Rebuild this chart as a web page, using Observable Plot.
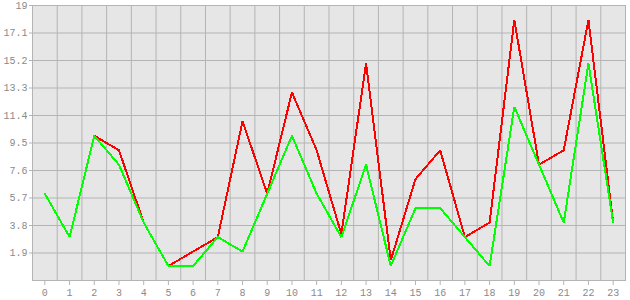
<!DOCTYPE html>
<html>
<head>
<meta charset="utf-8">
<script src="https://cdn.jsdelivr.net/npm/d3@7"></script>
<script src="https://cdn.jsdelivr.net/npm/@observablehq/plot@0.6"></script>
<style>
  html, body { margin: 0; padding: 0; background: #ffffff; }
</style>
</head>
<body>
<div id="chart"></div>
<script>
const categories = [0,1,2,3,4,5,6,7,8,9,10,11,12,13,14,15,16,17,18,19,20,21,22,23];
const redValues   = [6,3,10,9,4,1,2,3,11,6,13,9,3.2,15,1.4,7,9,3,4,18,8,9,18,4];
const greenValues = [6,3,10,8,4,1,1,3,2,6,10,6,3,8,1,5,5,3,1,12,8,4,15,4];
const yTicks = [1.9, 3.8, 5.7, 7.6, 9.5, 11.4, 13.3, 15.2, 17.1, 19];

const red = categories.map((c, i) => ({x: c, y: redValues[i]}));
const green = categories.map((c, i) => ({x: c, y: greenValues[i]}));
const bandEdges = d3.range(categories.length + 1).map(i => categories[0] - 0.5 + i);

const gridColor = "#b4b4b4";
const textColor = "#8a8a8a";

const chart = Plot.plot({
  width: 630,
  height: 300,
  marginLeft: 32,
  marginRight: 5,
  marginTop: 5,
  marginBottom: 20,
  style: {fontFamily: "'Liberation Mono', monospace", fontSize: "10px", color: textColor, background: "#ffffff"},
  x: {domain: [categories[0] - 0.5, categories[categories.length - 1] + 0.5]},
  y: {domain: [0, 19]},
  marks: [
    Plot.frame({fill: "#e6e6e6", stroke: null}),
    Plot.ruleX(bandEdges, {stroke: gridColor, strokeWidth: 1, strokeOpacity: 1}),
    Plot.ruleY(yTicks, {stroke: gridColor, strokeWidth: 1, strokeOpacity: 1}),
    Plot.frame({stroke: gridColor, strokeWidth: 1, strokeOpacity: 1}),
    Plot.axisX(categories, {tickSize: 5, tickPadding: 3, stroke: gridColor, strokeOpacity: 1, fill: textColor, tickFormat: d => String(d), label: null}),
    Plot.axisY(yTicks, {tickSize: 3, tickPadding: 2, stroke: gridColor, strokeOpacity: 1, fill: textColor, tickFormat: d => String(d), label: null}),
    Plot.line(red, {x: "x", y: "y", stroke: "#ff0000", strokeWidth: 2, strokeLinejoin: "miter", shapeRendering: "crispEdges"}),
    Plot.line(green, {x: "x", y: "y", stroke: "#00ff00", strokeWidth: 2, strokeLinejoin: "miter", shapeRendering: "crispEdges"})
  ]
});
document.getElementById("chart").appendChild(chart);
</script>
</body>
</html>
